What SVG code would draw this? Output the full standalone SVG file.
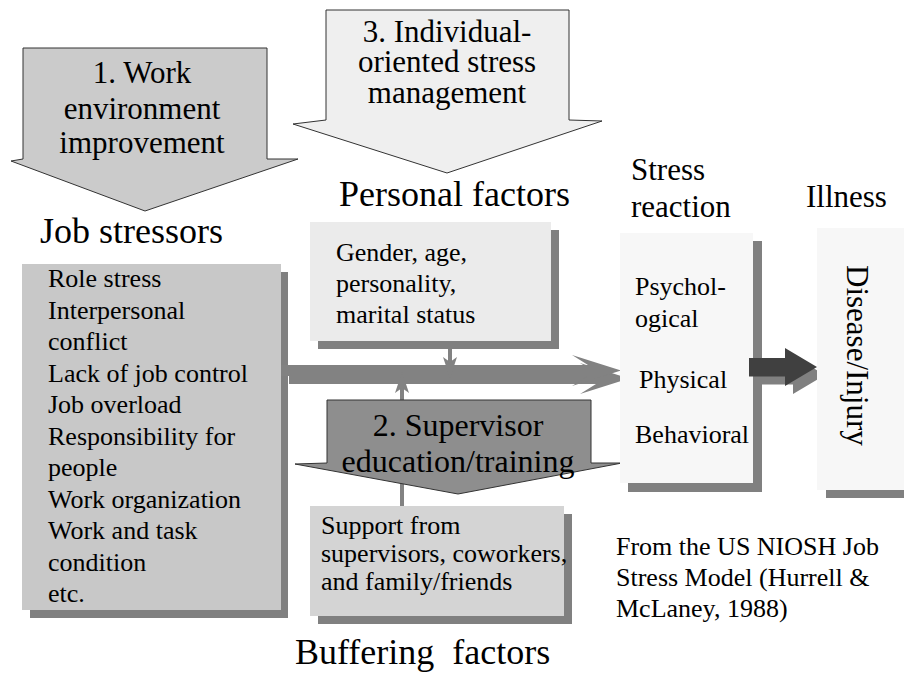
<svg xmlns="http://www.w3.org/2000/svg" width="904" height="673" viewBox="0 0 904 673">
  <style>
    text { fill: #000; }
    .big { font-size: 36px; }
    .hdr { font-size: 31px; }
    .item { font-size: 26px; }
    .mid { text-anchor: middle; }
    .block { stroke: #333; stroke-width: 1; }
    .shadow { fill: #808080; }
    .flow { fill: #828282; }
  </style>

  <g font-family="'Liberation Serif', 'Times New Roman', Tinos, 'DejaVu Serif', serif">
  <!-- intervention 1: work environment improvement -->
  <g id="work-environment-improvement">
    <polygon class="block" fill="#cbcbcb" points="23,48 267,48 267,159 298,159 145,211 11,161 23,159"/>
    <text class="hdr mid" x="142" y="83">1. Work</text>
    <text class="hdr mid" x="142" y="119">environment</text>
    <text class="hdr mid" x="142" y="153">improvement</text>
  </g>

  <!-- intervention 3: individual-oriented stress management -->
  <g id="individual-stress-management">
    <polygon class="block" fill="#efefef" points="326,10 569,10 569,120 602,121 447,173 293,124 326,120"/>
    <text class="hdr mid" x="447" y="42">3. Individual-</text>
    <text class="hdr mid" x="447" y="72">oriented stress</text>
    <text class="hdr mid" x="447" y="103">management</text>
  </g>

  <!-- job stressors -->
  <g id="job-stressors">
    <text class="big" x="40" y="243">Job stressors</text>
    <rect class="shadow" x="30" y="272" width="258" height="346"/>
    <rect fill="#c8c8c8" x="22" y="264" width="259" height="346"/>
    <text class="item" x="48" y="287">Role stress</text>
    <text class="item" x="48" y="318.5">Interpersonal</text>
    <text class="item" x="48" y="350">conflict</text>
    <text class="item" x="48" y="381.5">Lack of job control</text>
    <text class="item" x="48" y="413">Job overload</text>
    <text class="item" x="48" y="444.5">Responsibility for</text>
    <text class="item" x="48" y="476">people</text>
    <text class="item" x="48" y="507.5">Work organization</text>
    <text class="item" x="48" y="539">Work and task</text>
    <text class="item" x="48" y="570.5">condition</text>
    <text class="item" x="48" y="602">etc.</text>
  </g>

  <!-- personal factors -->
  <g id="personal-factors">
    <text class="big" x="339" y="206">Personal factors</text>
    <rect class="shadow" x="318" y="230" width="241" height="119"/>
    <rect fill="#ebebeb" x="310" y="222" width="241" height="119"/>
    <text class="item" x="336" y="261">Gender, age,</text>
    <text class="item" x="336" y="292">personality,</text>
    <text class="item" x="336" y="323">marital status</text>
  </g>

  <!-- connectors -->
  <g id="connectors">
    <!-- main flow from stressors to stress reaction -->
    <polygon class="flow" transform="translate(8,8)" points="281,365 588,365 572,355 621,370.5 572,386 588,376 281,376"/>
    <polygon class="flow" points="281,365 588,365 572,355 621,370.5 572,386 588,376 281,376"/>
    <!-- personal factors acting on the flow -->
    <line x1="450" y1="349" x2="450" y2="362" stroke="#828282" stroke-width="4"/>
    <polygon class="flow" points="443,357 450,362 457,357 450,378"/>
    <!-- buffering factors acting on the flow -->
    <line x1="402" y1="506" x2="402" y2="388" stroke="#828282" stroke-width="4"/>
    <polygon class="flow" points="395,393 402,388 409,393 402,372"/>
  </g>

  <!-- intervention 2: supervisor education/training -->
  <g id="supervisor-training">
    <polygon class="block" fill="#8e8e8e" points="327,400 591,400 591,463 622,463 458,494 295,464 327,463"/>
    <text class="mid" x="458" y="436" font-size="32">2. Supervisor</text>
    <text class="mid" x="458" y="472" font-size="32">education/training</text>
  </g>

  <!-- buffering factors -->
  <g id="buffering-factors">
    <rect class="shadow" x="318" y="514" width="254" height="110"/>
    <rect fill="#d4d4d4" x="310" y="506" width="254" height="110"/>
    <text class="item" x="321" y="534">Support from</text>
    <text class="item" x="321" y="562">supervisors, coworkers,</text>
    <text class="item" x="321" y="590">and family/friends</text>
    <text class="big" x="295" y="664" xml:space="preserve">Buffering  factors</text>
  </g>

  <!-- stress reaction -->
  <g id="stress-reaction">
    <text class="hdr" x="631" y="180">Stress</text>
    <text class="hdr" x="631" y="217">reaction</text>
    <rect class="shadow" x="628" y="241" width="134" height="251"/>
    <rect fill="#f7f7f7" x="620" y="233" width="133" height="250"/>
    <text class="item" x="635" y="295">Psychol-</text>
    <text class="item" x="635" y="327">ogical</text>
    <text class="item" x="639" y="388">Physical</text>
    <text class="item" x="635" y="443">Behavioral</text>
  </g>

  <!-- reaction leading to illness -->
  <g id="reaction-to-illness">
    <polygon class="shadow" transform="translate(8,8)" points="749,358 785,358 785,348 817,367 785,386 785,376.5 749,376.5"/>
    <polygon fill="#404040" points="749,358 785,358 785,348 817,367 785,386 785,376.5 749,376.5"/>
  </g>

  <!-- illness -->
  <g id="illness">
    <text class="hdr" x="806" y="207">Illness</text>
    <rect class="shadow" x="826" y="236" width="90" height="262"/>
    <rect fill="#f7f7f7" x="817" y="228" width="95" height="262"/>
    <text class="hdr" transform="translate(847,265) rotate(90)" x="0" y="0">Disease/Injury</text>
  </g>

  <!-- source note -->
  <g id="source-note">
    <text class="item" x="616" y="555">From the US NIOSH Job</text>
    <text class="item" x="616" y="586">Stress Model (Hurrell &amp;</text>
    <text class="item" x="616" y="617">McLaney, 1988)</text>
  </g>
  </g>
</svg>
